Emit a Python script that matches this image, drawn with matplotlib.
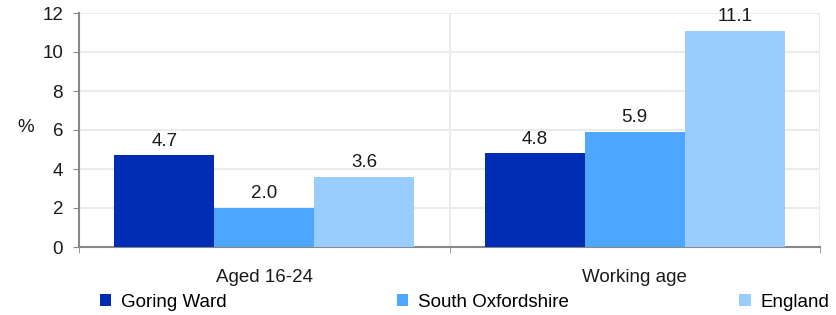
import numpy as np
import matplotlib
matplotlib.use("Agg")
import matplotlib.pyplot as plt
from matplotlib.ticker import FixedLocator

categories = ["Aged 16-24", "Working age"]
series = ["Goring Ward", "South Oxfordshire", "England"]
goring = [4.7, 4.8]
south_oxon = [2.0, 5.9]
england = [3.6, 11.1]
colors = ["#002db3", "#4da6ff", "#99ccff"]

plt.rcParams["font.family"] = ["Liberation Sans", "DejaVu Sans"]
plt.rcParams["font.size"] = 13.5

fig = plt.figure(figsize=(8.37, 3.15), dpi=100)
ax = fig.add_axes([79 / 837, 68 / 315, 741 / 837, 234 / 315])

x = np.arange(len(categories))
w = 0.27
for k, (name, vals) in enumerate(zip(series, [goring, south_oxon, england])):
    bars = ax.bar(x + (k - 1) * w, vals, w, color=colors[k], label=name, zorder=3)
    ax.bar_label(bars, labels=[f"{v:.1f}" for v in vals], padding=4,
                 fontsize=13.5, color="#1a1a1a")

ax.set_xlim(-0.5, 1.5)
ax.set_ylim(0, 12)
ax.set_yticks(range(0, 13, 2))
ax.set_xticks(x)
ax.set_xticklabels(categories)
ax.xaxis.set_minor_locator(FixedLocator([-0.5, 0.5, 1.5]))

ax.tick_params(axis="x", which="major", length=0, pad=16, colors="#1a1a1a")
ax.tick_params(axis="x", which="minor", length=4.5, color="#888888")
ax.tick_params(axis="y", length=4.5, color="#888888", pad=7, labelcolor="#1a1a1a")

ax.grid(axis="y", color="#ebebeb", linewidth=1.5, zorder=0)
ax.grid(axis="x", which="minor", color="#ebebeb", linewidth=1.5, zorder=0)
ax.grid(axis="x", which="major", visible=False)

for s in ["top", "right"]:
    ax.spines[s].set_visible(False)
for s in ["left", "bottom"]:
    ax.spines[s].set_color("#888888")
    ax.spines[s].set_linewidth(1.5)

ax.set_ylabel("%", rotation=0, color="#1a1a1a", va="center", ha="center")
ax.yaxis.set_label_coords(-0.072, 0.51)

fig.legend(loc="center left", bbox_to_anchor=(100 / 837, 0.005, 729 / 837, 0.07),
           mode="expand", ncol=3, frameon=False, handlelength=0.6,
           handleheight=0.6, handletextpad=0.5, borderaxespad=0, borderpad=0,
           fontsize=13.5)

fig.savefig("out.png", dpi=100)
